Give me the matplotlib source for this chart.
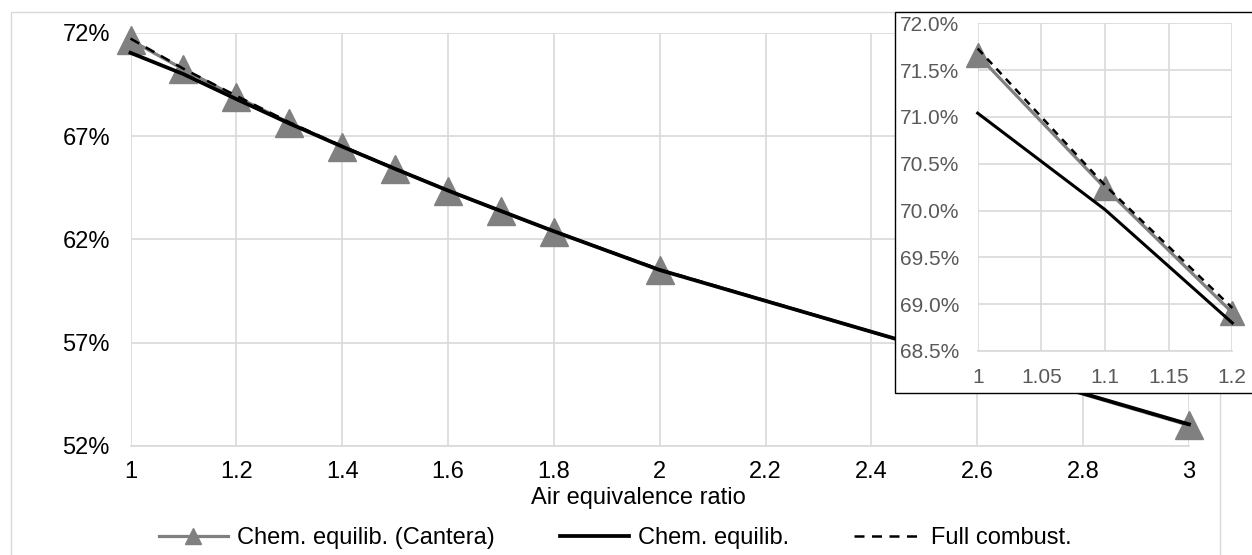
import matplotlib.pyplot as plt
from matplotlib.patches import Rectangle
from matplotlib.ticker import FuncFormatter, MultipleLocator

plt.rcParams['font.family'] = ['Liberation Sans', 'DejaVu Sans']

# datos (eficiencia en %)
lam = [1.0, 1.1, 1.2, 1.3, 1.4, 1.5, 1.6, 1.7, 1.8, 2.0, 3.0]
cantera = [71.66, 70.24, 68.91, 67.65, 66.50, 65.42, 64.36, 63.36, 62.38, 60.54, 53.00]
equilib = [71.04, 70.01, 68.80, 67.62, 66.50, 65.42, 64.37, 63.38, 62.40, 60.52, 53.05]
full_comb = [71.73, 70.27, 68.96, 67.68, 66.52, 65.44, 64.38, 63.38, 62.40, 60.55, 53.02]

main_yticks = [52, 57, 62, 67, 72]
main_xticks = [1.0, 1.2, 1.4, 1.6, 1.8, 2.0, 2.2, 2.4, 2.6, 2.8, 3.0]

W, H = 1252, 555
fig = plt.figure(figsize=(W / 100, H / 100), dpi=100)

GRID = '#d9d9d9'
GRAY = '#808080'
FS = 17

def px(x0, y0, x1, y1):
    # caja en pixeles (origen arriba izq) -> fracciones de figura
    return [x0 / W, 1 - y1 / H, (x1 - x0) / W, (y1 - y0) / H]

# borde exterior del grafico
fig.patches.append(Rectangle((10.5 / W, -0.05), (1220 - 10.5) / W, 1.05 - 12 / H,
                             transform=fig.transFigure, fill=False,
                             edgecolor=GRID, lw=1, zorder=0.5))

ax = fig.add_axes(px(130.5, 33, 1189, 446))
ax.plot(lam, cantera, color=GRAY, lw=2.3, marker='^', ms=19.5, mec=GRAY, mfc=GRAY,
        label='Chem. equilib. (Cantera)', clip_on=False, zorder=3)
ax.plot(lam, equilib, color='black', lw=2.7, label='Chem. equilib.', clip_on=False, zorder=4)
ax.plot(lam, full_comb, color='black', lw=1.8, ls=(0, (4, 3)), label='Full combust.',
        clip_on=False, zorder=5)

ax.set_xlim(1, 3)
ax.set_ylim(52, 72)
ax.set_xticks(main_xticks)
ax.set_yticks(main_yticks)
ax.xaxis.set_major_formatter(FuncFormatter(lambda v, p: f'{v:g}'))
ax.yaxis.set_major_formatter(FuncFormatter(lambda v, p: f'{v:.0f}%'))
ax.grid(True, color=GRID, lw=1.2)
ax.set_axisbelow(True)
for s in ax.spines.values():
    s.set_visible(False)
ax.spines['bottom'].set_visible(True)
ax.spines['bottom'].set_color(GRID)
ax.spines['bottom'].set_linewidth(1.2)
ax.tick_params(axis='both', length=0, labelsize=FS, colors='black')
ax.tick_params(axis='y', pad=14.8)
ax.tick_params(axis='x', pad=11)

fig.text(638.5 / W, 1 - 504 / H, 'Air equivalence ratio', ha='center', va='baseline',
         fontsize=FS)

fig.legend(loc='center left', bbox_to_anchor=(159 / W, 17 / H), ncol=3, frameon=False,
           fontsize=FS, borderpad=0, borderaxespad=0, handlelength=2.92,
           handletextpad=0.38, columnspacing=2.75, markerscale=0.6)

# recuadro del zoom
fig.patches.append(Rectangle((895 / W, 1 - 393 / H), 0.5, (393 - 12) / H,
                             transform=fig.transFigure, facecolor='white',
                             edgecolor='black', lw=1, zorder=1))

ins = fig.add_axes(px(977.7, 23.3, 1232.3, 351), zorder=2)
ins.plot(lam[:3], cantera[:3], color=GRAY, lw=2.3, marker='^', ms=17, mec=GRAY, mfc=GRAY,
         clip_on=False, zorder=3)
ins.plot(lam[:3], equilib[:3], color='black', lw=2.2, clip_on=False, zorder=4)
ins.plot(lam[:3], full_comb[:3], color='black', lw=1.8, ls=(0, (3, 2.5)),
         clip_on=False, zorder=5)
ins.set_xlim(1, 1.2)
ins.set_ylim(68.5, 72)
ins.xaxis.set_major_locator(MultipleLocator(0.05))
ins.yaxis.set_major_locator(MultipleLocator(0.5))
ins.xaxis.set_major_formatter(FuncFormatter(lambda v, p: f'{v:g}'))
ins.yaxis.set_major_formatter(FuncFormatter(lambda v, p: f'{v:.1f}%'))
ins.grid(True, color=GRID, lw=1.2)
ins.set_axisbelow(True)
for s in ins.spines.values():
    s.set_visible(False)
ins.spines['bottom'].set_visible(True)
ins.spines['bottom'].set_color(GRID)
ins.spines['bottom'].set_linewidth(1.2)
ins.patch.set_alpha(0)
ins.tick_params(axis='both', length=0, labelsize=15, colors='#595959')
ins.tick_params(axis='y', pad=13.5)
ins.tick_params(axis='x', pad=12)

fig.savefig('out.png', dpi=100)
